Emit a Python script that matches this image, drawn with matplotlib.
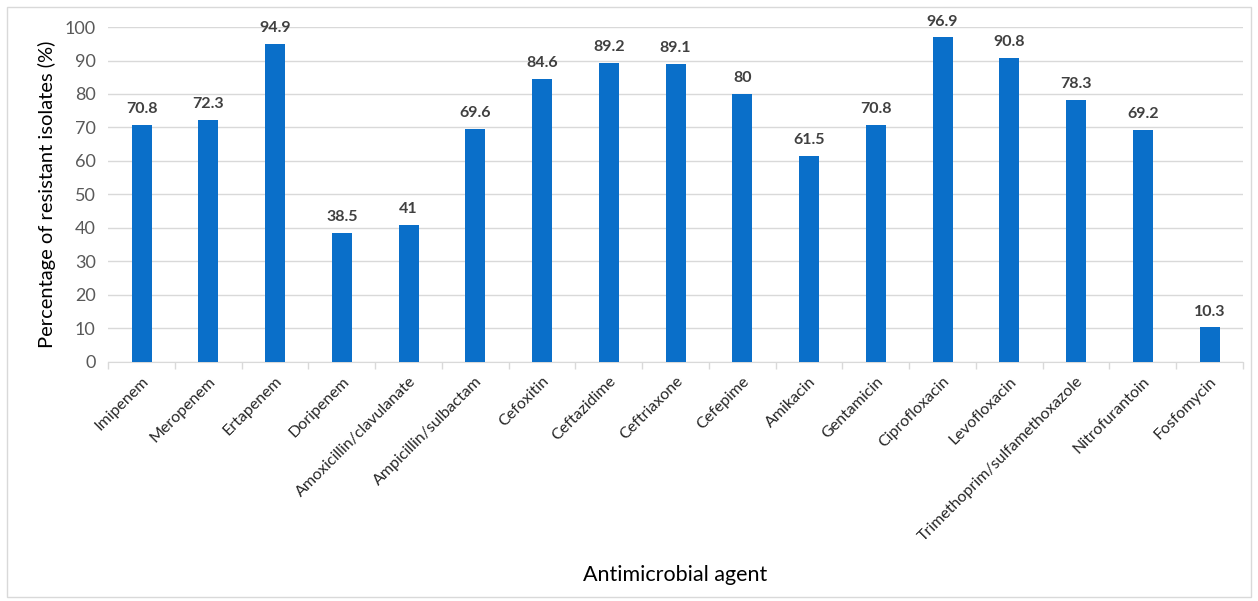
import matplotlib
matplotlib.use("Agg")
import matplotlib.pyplot as plt
from matplotlib.patches import Rectangle
import numpy as np

plt.rcParams["font.family"] = ["Lato", "DejaVu Sans"]

# 数据
agents = ["Imipenem", "Meropenem", "Ertapenem", "Doripenem",
          "Amoxicillin/clavulanate", "Ampicillin/sulbactam", "Cefoxitin",
          "Ceftazidime", "Ceftriaxone", "Cefepime", "Amikacin", "Gentamicin",
          "Ciprofloxacin", "Levofloxacin", "Trimethoprim/sulfamethoxazole",
          "Nitrofurantoin", "Fosfomycin"]
resistant = [70.8, 72.3, 94.9, 38.5, 41, 69.6, 84.6, 89.2, 89.1, 80,
             61.5, 70.8, 96.9, 90.8, 78.3, 69.2, 10.3]

fig = plt.figure(figsize=(12.58, 6.01), dpi=100)
ax = fig.add_axes([0.086, 0.398, 0.902, 0.557])

x = np.arange(len(agents))
ax.bar(x, resistant, width=0.3, color="#0A6FC9", zorder=3)

# 柱顶数值
for xi, v in zip(x, resistant):
    ax.text(xi, v + 2.6, "%g" % v, ha="center", va="bottom",
            fontsize=11.5, fontweight="bold", color="#404040")

ax.set_xlim(-0.5, len(agents) - 0.5)
ax.set_ylim(0, 100)
ax.set_yticks(range(0, 101, 10))
ax.yaxis.grid(True, color="#d9d9d9", lw=1, zorder=0)
ax.tick_params(axis="y", length=0, labelsize=13, labelcolor="#595959", pad=9)

ax.set_xticks(x)
ax.set_xticklabels(agents, rotation=45, ha="right", rotation_mode="anchor",
                   fontsize=11.5, color="#262626")
ax.tick_params(axis="x", length=0, pad=9)
# 类别之间的刻度线
ax.set_xticks(np.arange(-0.5, len(agents), 1), minor=True)
ax.tick_params(axis="x", which="minor", length=5, color="#d9d9d9", width=1)

for s in ["top", "right", "left"]:
    ax.spines[s].set_visible(False)
ax.spines["bottom"].set_color("#d9d9d9")

ax.set_ylabel("Percentage of resistant isolates (%)", fontsize=14.5, color="#000000", labelpad=6)
ax.text(0.5, -0.636, "Antimicrobial agent", transform=ax.transAxes,
        ha="center", va="center", fontsize=15.5)

# 外框
fig.patches.append(Rectangle((0.0056, 0.0067), 0.989, 0.982, transform=fig.transFigure,
                             fill=False, edgecolor="#d9d9d9", lw=1))

fig.savefig("out.png", dpi=100)
